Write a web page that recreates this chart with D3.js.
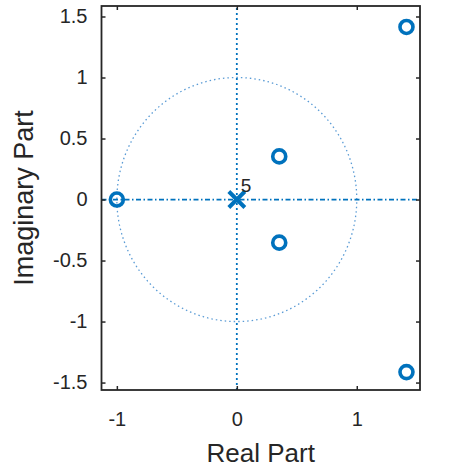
<!DOCTYPE html>
<html>
<head>
<meta charset="utf-8">
<script src="https://cdn.jsdelivr.net/npm/d3@7"></script>
<style>
  html, body { margin: 0; padding: 0; background: #fff; }
  svg { display: block; font-family: "Liberation Sans", Arial, sans-serif; }
</style>
</head>
<body>
<svg id="chart" width="462" height="470"></svg>
<script>
// Zeros of the filter (real, imaginary)
const zeroRe = [-1, 0.3536, 0.3536, 1.4142, 1.4142];
const zeroIm = [0, 0.3536, -0.3536, 1.4142, -1.4142];
// Poles (all at origin, multiplicity 5)
const poleRe = [0];
const poleIm = [0];
const poleMult = [5];

const xTicks = [-1, 0, 1];
const yTicks = [-1.5, -1, -0.5, 0, 0.5, 1, 1.5];
const xDomain = [-1.128, 1.527];
const yDomain = [-1.561, 1.586];

const blue = "#0072BD";
const axisColor = "#262626";
const textColor = "#262626";
const fmt = d => String(d); // plain hyphen-minus labels

const svg = d3.select("#chart");
const m = { left: 101.5, right: 420, top: 6, bottom: 390 };

const x = d3.scaleLinear().domain(xDomain).range([m.left, m.right]);
const y = d3.scaleLinear().domain(yDomain).range([m.bottom, m.top]);

const plot = svg.append("g");
svg.append("clipPath").attr("id", "plotclip")
  .append("rect").attr("x", m.left).attr("y", m.top)
  .attr("width", m.right - m.left).attr("height", m.bottom - m.top);

const inner = plot.append("g").attr("clip-path", "url(#plotclip)");

// unit circle
const circ = d3.range(0, 361, 2).map(a => [Math.cos(a * Math.PI / 180), Math.sin(a * Math.PI / 180)]);
inner.append("path")
  .attr("d", d3.line().x(d => x(d[0])).y(d => y(d[1]))(circ))
  .attr("fill", "none")
  .attr("stroke", "#5a9bd5")
  .attr("stroke-width", 1.3)
  .attr("stroke-dasharray", "1.5,3");

// real and imaginary axes
inner.append("line")
  .attr("x1", x(xDomain[0])).attr("x2", x(xDomain[1]))
  .attr("y1", y(0)).attr("y2", y(0))
  .attr("stroke", blue).attr("stroke-width", 1.8)
  .attr("stroke-dasharray", "5,2.5,1.5,2.5");
inner.append("line")
  .attr("x1", x(0)).attr("x2", x(0))
  .attr("y1", y(yDomain[0])).attr("y2", y(yDomain[1]))
  .attr("stroke", blue).attr("stroke-width", 1.8)
  .attr("stroke-dasharray", "2,3");

// axes (ticks inside, box on)
const tickLen = 4;
const xAxisB = d3.axisBottom(x).tickValues(xTicks).tickSize(-tickLen).tickPadding(22).tickFormat(fmt);
const xAxisT = d3.axisTop(x).tickValues(xTicks).tickSize(-tickLen).tickFormat("");
const yAxisL = d3.axisLeft(y).tickValues(yTicks).tickSize(-tickLen).tickPadding(14).tickFormat(fmt);
const yAxisR = d3.axisRight(y).tickValues(yTicks).tickSize(-tickLen).tickFormat("");

function styleAxis(g) {
  g.select(".domain").remove();
  g.selectAll(".tick line").attr("stroke", axisColor).attr("stroke-width", 1.5);
  g.selectAll(".tick text").attr("fill", textColor).attr("font-size", 20)
    .attr("font-family", "Liberation Sans, Arial, sans-serif");
}
svg.append("g").attr("transform", `translate(0,${m.bottom})`).call(xAxisB).call(styleAxis);
svg.append("g").attr("transform", `translate(0,${m.top})`).call(xAxisT).call(styleAxis);
svg.append("g").attr("transform", `translate(${m.left},0)`).call(yAxisL).call(styleAxis);
svg.append("g").attr("transform", `translate(${m.right},0)`).call(yAxisR).call(styleAxis);

svg.append("rect")
  .attr("x", m.left).attr("y", m.top)
  .attr("width", m.right - m.left).attr("height", m.bottom - m.top)
  .attr("fill", "none").attr("stroke", axisColor).attr("stroke-width", 1.8);

// zeros
const zeros = zeroRe.map((r, i) => ({ re: r, im: zeroIm[i] }));
plot.selectAll("circle.zero").data(zeros).join("circle")
  .attr("class", "zero")
  .attr("cx", d => x(d.re)).attr("cy", d => y(d.im))
  .attr("r", 6.5)
  .attr("fill", "none").attr("stroke", blue).attr("stroke-width", 3.6);

// poles
const poles = poleRe.map((r, i) => ({ re: r, im: poleIm[i], n: poleMult[i] }));
const s = 8;
poles.forEach(p => {
  const cx = x(p.re), cy = y(p.im);
  plot.append("path")
    .attr("d", `M${cx - s},${cy - s}L${cx + s},${cy + s}M${cx - s},${cy + s}L${cx + s},${cy - s}`)
    .attr("stroke", blue).attr("stroke-width", 4).attr("fill", "none");
  if (p.n > 1) {
    plot.append("text")
      .attr("x", cx + 4).attr("y", cy - 8)
      .attr("font-size", 19).attr("fill", textColor)
      .text(p.n);
  }
});

// axis labels
svg.append("text")
  .attr("x", (m.left + m.right) / 2).attr("y", 462)
  .attr("text-anchor", "middle").attr("font-size", 26).attr("fill", textColor)
  .text("Real Part");
svg.append("text")
  .attr("transform", `translate(33,${(m.top + m.bottom) / 2}) rotate(-90)`)
  .attr("text-anchor", "middle").attr("font-size", 27).attr("fill", textColor)
  .text("Imaginary Part");
</script>
</body>
</html>
